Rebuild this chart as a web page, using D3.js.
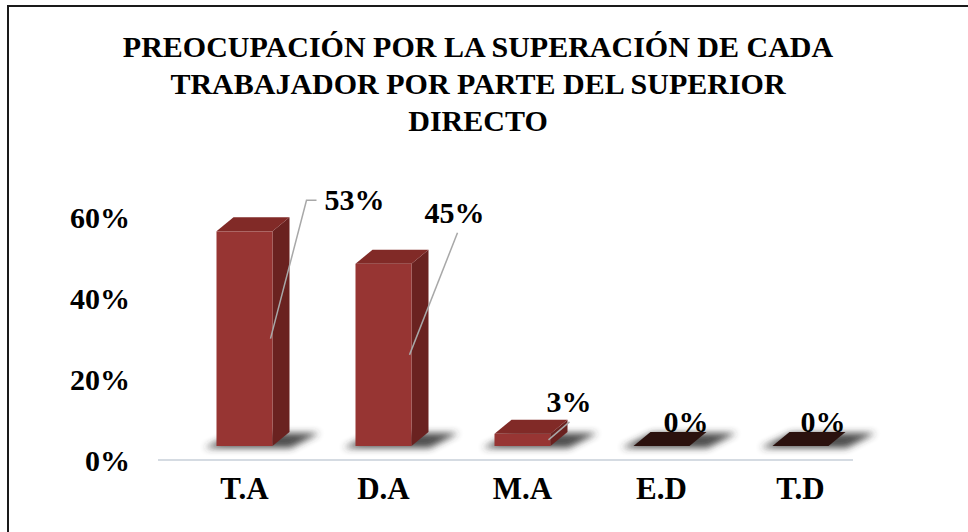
<!DOCTYPE html>
<html>
<head>
<meta charset="utf-8">
<script src="https://cdn.jsdelivr.net/npm/d3@7"></script>
<style>
  html, body { margin: 0; padding: 0; background: #fff; }
  svg text { font-family: "Liberation Serif", "Times New Roman", serif; font-weight: bold; fill: #000; }
</style>
</head>
<body>
<svg id="chart" width="968" height="532"></svg>
<script>
const titleLines = [
  'PREOCUPACIÓN POR LA SUPERACIÓN DE CADA',
  'TRABAJADOR POR PARTE DEL SUPERIOR',
  'DIRECTO'
];
const categories = ['T.A', 'D.A', 'M.A', 'E.D', 'T.D'];
const values = [0.53, 0.45, 0.03, 0, 0];
const valueLabels = ['53%', '45%', '3%', '0%', '0%'];
const yTicks = [0, 0.2, 0.4, 0.6];
const yTickLabels = ['0%', '20%', '40%', '60%'];

// where each data label sits, relative to the bar's front-right top corner
const labelLayout = [
  { dx: 52, dy: -21, lead: 'elbow' },
  { dx: 13, dy: -41, lead: 'below' },
  { dx: -4, dy: -22, lead: 'below' },
  { dx: -26, dy: -14 },
  { dx: -28, dy: -14 }
];

const svg = d3.select('#chart');
const depthX = 17, depthY = -14, barW = 56;

const x = d3.scaleBand().domain(categories).range([158, 853]);
const y = d3.scaleLinear().domain([0, 0.6]).range([460, 217]);

// frame (only left and top edges are visible)
svg.append('path')
  .attr('d', 'M8,532V6H968')
  .attr('fill', 'none')
  .attr('stroke', '#1a1a1a')
  .attr('stroke-width', 2);

// title
svg.append('g').selectAll('text')
  .data(titleLines)
  .enter().append('text')
  .attr('x', 478)
  .attr('y', (d, i) => 57 + i * 37)
  .attr('text-anchor', 'middle')
  .style('font-size', '30px')
  .text(d => d);

// shadow filter
const defs = svg.append('defs');
defs.append('filter').attr('id', 'blur')
  .attr('x', '-50%').attr('y', '-50%').attr('width', '200%').attr('height', '200%')
  .append('feGaussianBlur').attr('stdDeviation', 3.5);

// floor line
svg.append('line')
  .attr('x1', x.range()[0]).attr('x2', x.range()[1])
  .attr('y1', y(0)).attr('y2', y(0))
  .attr('stroke', '#d5dbe2')
  .attr('stroke-width', 2);

// y tick labels
svg.append('g').selectAll('text')
  .data(yTicks)
  .enter().append('text')
  .attr('x', 130)
  .attr('y', d => y(d) + 11)
  .attr('text-anchor', 'end')
  .style('font-size', '30px')
  .text((d, i) => yTickLabels[i]);

// x category labels
svg.append('g').selectAll('text')
  .data(categories)
  .enter().append('text')
  .attr('x', d => x(d) + x.bandwidth() / 2 + depthX)
  .attr('y', 499)
  .attr('text-anchor', 'middle')
  .style('font-size', '31px')
  .text(d => d);

const bars = categories.map((c, i) => {
  const fx = x(c) + x.bandwidth() / 2 + depthX - barW / 2;
  const top = y(values[i]) + depthY;
  const base = y(0) + depthY;
  return { c, v: values[i], label: valueLabels[i], fx, fr: fx + barW, top, base, lay: labelLayout[i] };
});

const poly = pts => 'M' + pts.map(p => p.join(',')).join('L') + 'Z';

const g = svg.append('g');

// soft shadows on the floor
g.selectAll('.shadow')
  .data(bars)
  .enter().append('path')
  .attr('class', 'shadow')
  .attr('d', d => poly([
    [d.fx - 12, d.base + 2],
    [d.fr + 18, d.base + 2],
    [d.fr + depthX + 30, d.base + depthY + 1],
    [d.fx + depthX + 2, d.base + depthY + 1]
  ]))
  .attr('fill', '#2e2e2e')
  .attr('opacity', 0.85)
  .attr('filter', 'url(#blur)');

const barG = g.selectAll('.bar')
  .data(bars)
  .enter().append('g')
  .attr('class', 'bar');

// side face
barG.append('path')
  .attr('d', d => poly([
    [d.fr, d.top], [d.fr + depthX, d.top + depthY],
    [d.fr + depthX, d.base + depthY], [d.fr, d.base]
  ]))
  .attr('fill', '#6a2220');

// front face
barG.append('rect')
  .attr('x', d => d.fx)
  .attr('y', d => d.top)
  .attr('width', barW)
  .attr('height', d => d.base - d.top)
  .attr('fill', '#973533');

// top face
barG.append('path')
  .attr('d', d => poly([
    [d.fx, d.top], [d.fr, d.top],
    [d.fr + depthX, d.top + depthY], [d.fx + depthX, d.top + depthY]
  ]))
  .attr('fill', d => d.v > 0 ? '#812a27' : '#2b110e');

// leader lines
const leaders = bars.filter(d => d.lay.lead);
g.selectAll('.leader')
  .data(leaders)
  .enter().append('path')
  .attr('class', 'leader')
  .attr('d', d => {
    const lx = d.fr + d.lay.dx, ly = d.top + d.lay.dy;
    const ex = d.fr - 2, ey = (d.top + d.base) / 2;
    if (d.lay.lead === 'elbow') {
      return `M${lx - 8},${ly - 10}H${lx - 18}L${ex},${ey}`;
    }
    const sx = d.label.length > 2 ? lx + 33 : lx + 23;
    return `M${sx},${ly + 10}L${ex},${ey}`;
  })
  .attr('fill', 'none')
  .attr('stroke', '#a8a8a8')
  .attr('stroke-width', 1.5);

// data labels
g.selectAll('.value')
  .data(bars)
  .enter().append('text')
  .attr('class', 'value')
  .attr('x', d => d.fr + d.lay.dx)
  .attr('y', d => d.top + d.lay.dy)
  .style('font-size', '30px')
  .text(d => d.label);
</script>
</body>
</html>
